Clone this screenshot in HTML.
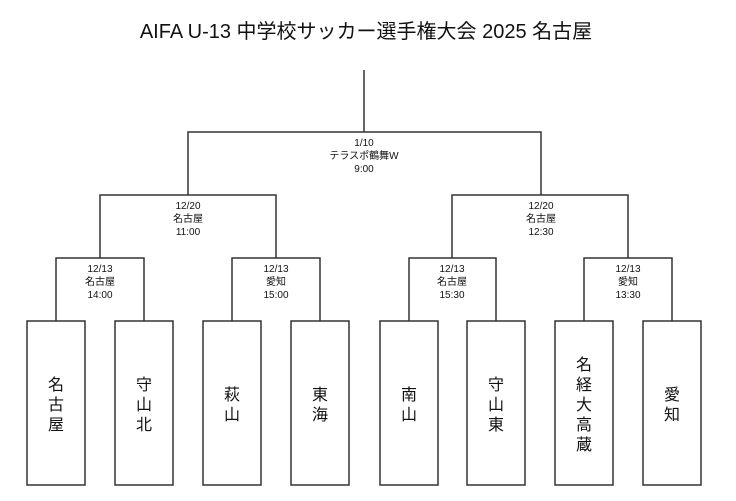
<!DOCTYPE html>
<html><head><meta charset="utf-8"><style>
body{margin:0;background:#fff;}
svg text{font-family:"Liberation Sans","Noto Sans CJK JP",sans-serif;fill:#111;}
</style></head><body>
<svg width="736" height="496" viewBox="0 0 736 496" xmlns="http://www.w3.org/2000/svg">
<text x="366" y="38" font-size="20" text-anchor="middle">AIFA U-13 中学校サッカー選手権大会 2025 名古屋</text>
<g stroke="#333" stroke-width="1.5" fill="none">
<path d="M364 70V132M188 195V132H541V195"/>
<path d="M100 258V195H276V258"/>
<path d="M56 321V258H144V321"/>
<path d="M232 321V258H320V321"/>
<path d="M452 258V195H628V258"/>
<path d="M409 321V258H496V321"/>
<path d="M584 321V258H672V321"/>
<rect x="27" y="321" width="58" height="164"/><rect x="115" y="321" width="58" height="164"/>
<rect x="203" y="321" width="58" height="164"/><rect x="291" y="321" width="58" height="164"/>
<rect x="380" y="321" width="58" height="164"/><rect x="467" y="321" width="58" height="164"/>
<rect x="555" y="321" width="58" height="164"/><rect x="643" y="321" width="58" height="164"/>
</g>
<g font-size="10" text-anchor="middle">
<text x="364" y="146">1/10</text><text x="364" y="159">テラスポ鶴舞W</text><text x="364" y="172">9:00</text>
<text x="188" y="209">12/20</text><text x="188" y="222">名古屋</text><text x="188" y="235">11:00</text>
<text x="541" y="209">12/20</text><text x="541" y="222">名古屋</text><text x="541" y="235">12:30</text>
<text x="100" y="272">12/13</text><text x="100" y="285">名古屋</text><text x="100" y="298">14:00</text>
<text x="276" y="272">12/13</text><text x="276" y="285">愛知</text><text x="276" y="298">15:00</text>
<text x="452" y="272">12/13</text><text x="452" y="285">名古屋</text><text x="452" y="298">15:30</text>
<text x="628" y="272">12/13</text><text x="628" y="285">愛知</text><text x="628" y="298">13:30</text>
</g>
<g font-size="16" text-anchor="middle">
<text x="56" y="390">名</text><text x="56" y="410">古</text><text x="56" y="430">屋</text>
<text x="144" y="390">守</text><text x="144" y="410">山</text><text x="144" y="430">北</text>
<text x="232" y="400">萩</text><text x="232" y="420">山</text>
<text x="320" y="400">東</text><text x="320" y="420">海</text>
<text x="409" y="400">南</text><text x="409" y="420">山</text>
<text x="496" y="390">守</text><text x="496" y="410">山</text><text x="496" y="430">東</text>
<text x="584" y="370">名</text><text x="584" y="390">経</text><text x="584" y="410">大</text><text x="584" y="430">高</text><text x="584" y="450">蔵</text>
<text x="672" y="400">愛</text><text x="672" y="420">知</text>
</g>
</svg>
</body></html>
